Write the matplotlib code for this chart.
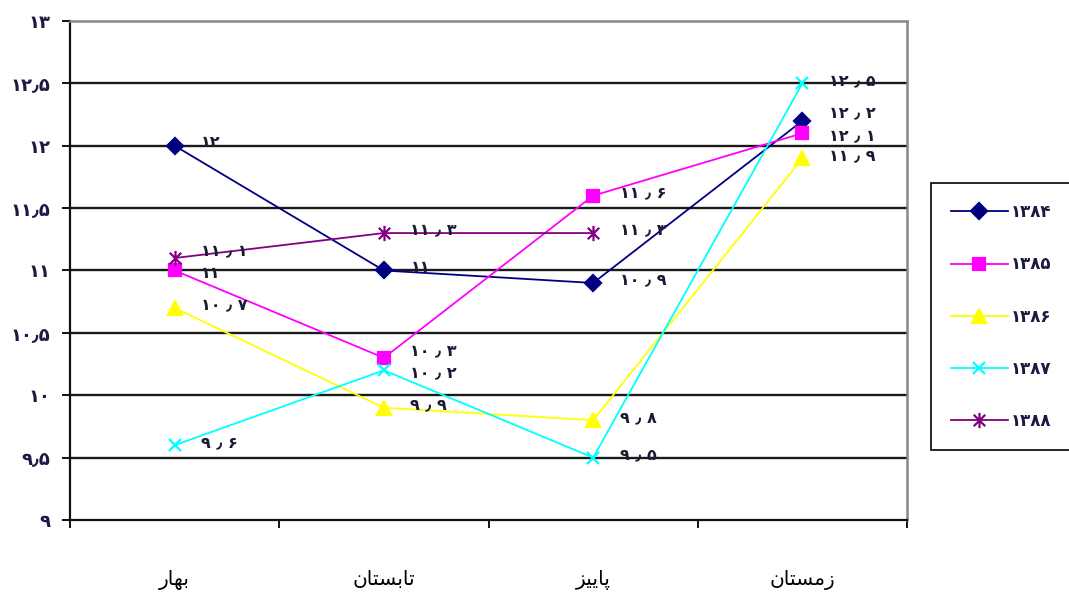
import matplotlib
matplotlib.use("Agg")
import matplotlib.pyplot as plt
from matplotlib.path import Path

# Season names (Persian, written in presentation forms, visual order)
seasons = [
    "\uFEAD\uFE8E\uFEEC\uFE91",                  # bahar
    "\uFEE5\uFE8E\uFE98\uFEB4\uFE91\uFE8E\uFE97",  # tabestan
    "\uFEB0\uFEF4\uFEF3\uFE8E\uFB58",              # paeez
    "\uFEE5\uFE8E\uFE98\uFEB4\uFEE3\uFEAF",        # zemestan
]
years = ["۱۳۸۴", "۱۳۸۵", "۱۳۸۶", "۱۳۸۷", "۱۳۸۸"]

s1384 = [12.0, 11.0, 10.9, 12.2]
s1385 = [11.0, 10.3, 11.6, 12.1]
s1386 = [10.7, 9.9, 9.8, 11.9]
s1387 = [9.6, 10.2, 9.5, 12.5]
s1388 = [11.1, 11.3, 11.3]

y_ticks = [9, 9.5, 10, 10.5, 11, 11.5, 12, 12.5, 13]

FA = str.maketrans("0123456789", "۰۱۲۳۴۵۶۷۸۹")


def fa_tick(v):
    return f"{v:g}".translate(FA).replace(".", "٫")


def fa_label(v):
    return f"{v:g}".translate(FA).replace(".", " ٫ ")


# Star marker: vertical stroke plus an X
star = Path(
    [(0, -1), (0, 1), (-0.75, -0.75), (0.75, 0.75), (-0.75, 0.75), (0.75, -0.75)],
    [Path.MOVETO, Path.LINETO, Path.MOVETO, Path.LINETO, Path.MOVETO, Path.LINETO],
)

series = [
    (s1384, "#000080", "D", 8),
    (s1385, "#FF00FF", "s", 8),
    (s1386, "#FFFF00", "^", 10),
    (s1387, "#00FFFF", "x", 9),
    (s1388, "#800080", star, 11),
]

# small vertical nudges (points) for labels that sit on top of each other
nudge = {(1, 0): -4, (4, 0): 3, (1, 1): 3, (3, 1): -4, (0, 3): 4, (1, 3): -4}

plt.rcParams["font.family"] = ["DejaVu Sans"]

fig = plt.figure(figsize=(10.69, 5.93), dpi=100)
ax = fig.add_axes([0.0655, 0.1231, 0.783, 0.8415])

for si, ((vals, color, marker, ms), label) in enumerate(zip(series, years)):
    xs = list(range(len(vals)))
    ax.plot(xs, vals, color=color, lw=1.3, marker=marker, ms=ms,
            mec=color, mfc=color, mew=1.6, label=label, zorder=3)
    for x, v in zip(xs, vals):
        dy = 2 + nudge.get((si, x), 0)
        ax.annotate(fa_label(v), (x, v), xytext=(19, dy),
                    textcoords="offset points", ha="left", va="center",
                    fontsize=11.5, fontweight="bold", color="#1a1a33",
                    zorder=4)

ax.set_xlim(-0.5, 3.5)
ax.set_ylim(9, 13)
ax.set_yticks(y_ticks)
ax.set_yticklabels([fa_tick(t) for t in y_ticks], fontsize=13,
                   fontweight="bold", color="#1a1a44")
ax.tick_params(axis="y", direction="out", length=6, width=1.3, pad=8)

ax.set_xticks(range(len(seasons)))
ax.set_xticklabels(seasons, fontsize=14.5)
ax.tick_params(axis="x", which="major", length=0, pad=36)
ax.set_xticks([-0.5, 0.5, 1.5, 2.5, 3.5], minor=True)
ax.tick_params(axis="x", which="minor", direction="out", length=6, width=1.3)

ax.yaxis.grid(True, color="#1a1a1a", lw=1.7)
ax.set_axisbelow(True)
gl = ax.yaxis.get_gridlines()
gl[0].set_visible(False)
gl[-1].set_visible(False)

for side in ("left", "bottom"):
    ax.spines[side].set_color("#111111")
    ax.spines[side].set_linewidth(1.6)
for side in ("top", "right"):
    ax.spines[side].set_color("#888888")
    ax.spines[side].set_linewidth(1.8)

leg = fig.legend(loc="upper left", bbox_to_anchor=(0.871, 0.691, 0.25, 0.0),
                 bbox_transform=fig.transFigure, mode="expand",
                 prop={"size": 12, "weight": "bold"}, labelspacing=2.05,
                 handlelength=3.4, handletextpad=0.2, borderpad=1.2,
                 borderaxespad=0, numpoints=1, fancybox=False, framealpha=1)
leg.get_frame().set_edgecolor("black")
leg.get_frame().set_linewidth(1.2)
for t in leg.get_texts():
    t.set_color("#1a1a44")

fig.savefig("out.png", dpi=100)
